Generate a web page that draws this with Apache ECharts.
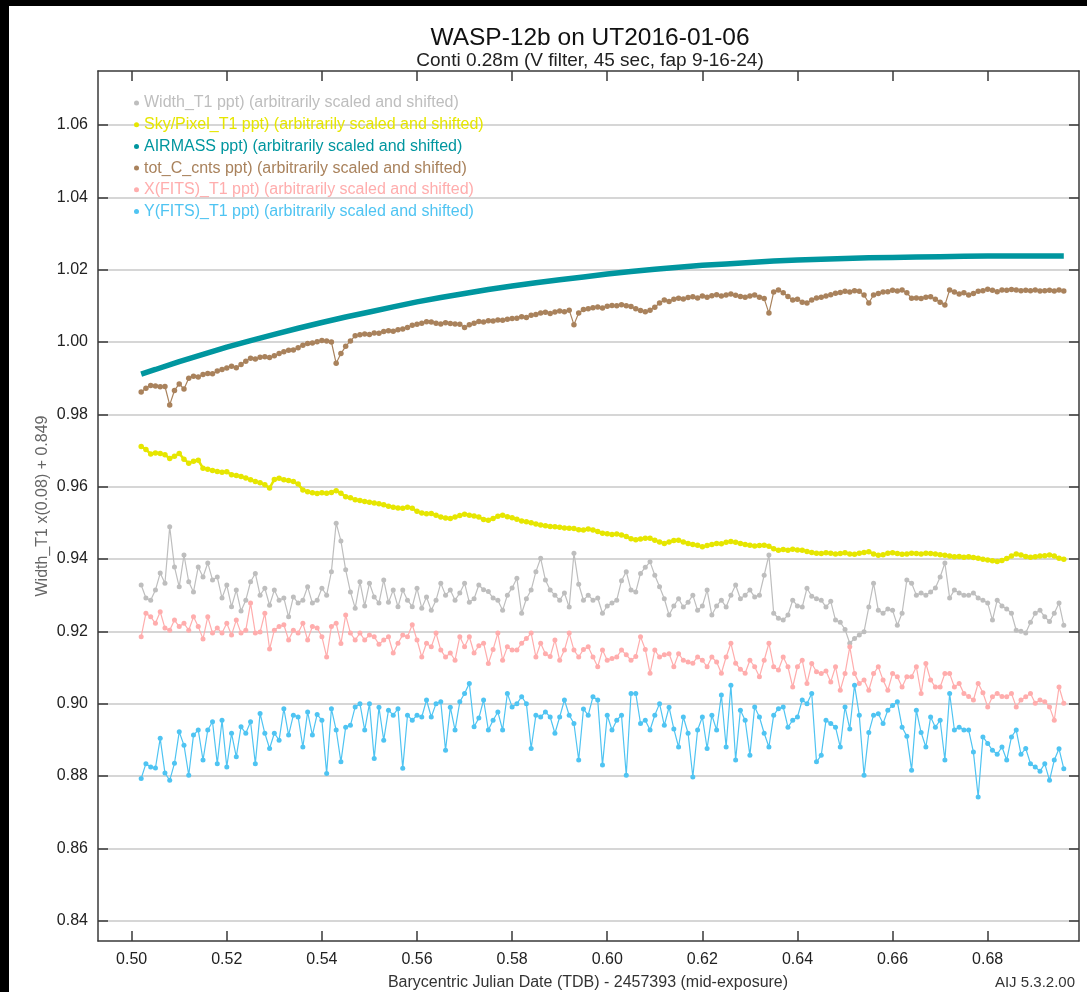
<!DOCTYPE html>
<html><head><meta charset="utf-8">
<script src="https://cdn.jsdelivr.net/npm/echarts@6/dist/echarts.min.js"></script>
<style>html,body{margin:0;padding:0;background:#fff}#c{width:1087px;height:992px}</style>
</head><body><div id="c"></div>
<script>
// ---------------- data ----------------
const bjd = [
0.502,0.503,0.504,0.505,0.506,0.507,0.508,0.509,0.510,0.511,
0.512,0.513,0.514,0.515,0.516,0.517,0.518,0.519,0.520,0.521,
0.522,0.523,0.524,0.525,0.526,0.527,0.528,0.529,0.530,0.531,
0.532,0.533,0.534,0.535,0.536,0.537,0.538,0.539,0.540,0.541,
0.542,0.543,0.544,0.545,0.546,0.547,0.548,0.549,0.550,0.551,
0.552,0.553,0.554,0.555,0.556,0.557,0.558,0.559,0.560,0.561,
0.562,0.563,0.564,0.565,0.566,0.567,0.568,0.569,0.570,0.571,
0.572,0.573,0.574,0.575,0.576,0.577,0.578,0.579,0.580,0.581,
0.582,0.583,0.584,0.585,0.586,0.587,0.588,0.589,0.590,0.591,
0.592,0.593,0.594,0.595,0.596,0.597,0.598,0.599,0.600,0.601,
0.602,0.603,0.604,0.605,0.606,0.607,0.608,0.609,0.610,0.611,
0.612,0.613,0.614,0.615,0.616,0.617,0.618,0.619,0.620,0.621,
0.622,0.623,0.624,0.625,0.626,0.627,0.628,0.629,0.630,0.631,
0.632,0.633,0.634,0.635,0.636,0.637,0.638,0.639,0.640,0.641,
0.642,0.643,0.644,0.645,0.646,0.647,0.648,0.649,0.650,0.651,
0.652,0.653,0.654,0.655,0.656,0.657,0.658,0.659,0.660,0.661,
0.662,0.663,0.664,0.665,0.666,0.667,0.668,0.669,0.670,0.671,
0.672,0.673,0.674,0.675,0.676,0.677,0.678,0.679,0.680,0.681,
0.682,0.683,0.684,0.685,0.686,0.687,0.688,0.689,0.690,0.691,
0.692,0.693,0.694,0.695,0.696];

const widthT1 = [
0.9328,0.9292,0.9286,0.9314,0.9361,0.9333,0.9489,0.9378,0.9323,0.9411,
0.9337,0.9309,0.9378,0.9350,0.9389,0.9342,0.9350,0.9292,0.9328,0.9268,
0.9314,0.9256,0.9286,0.9337,0.9360,0.9300,0.9319,0.9272,0.9314,0.9286,
0.9292,0.9240,0.9295,0.9278,0.9286,0.9323,0.9278,0.9286,0.9319,0.9300,
0.9365,0.9499,0.9450,0.9370,0.9309,0.9264,0.9337,0.9270,0.9333,0.9295,
0.9278,0.9342,0.9280,0.9314,0.9268,0.9314,0.9286,0.9268,0.9319,0.9264,
0.9295,0.9258,0.9286,0.9333,0.9300,0.9314,0.9286,0.9306,0.9333,0.9280,
0.9290,0.9328,0.9315,0.9310,0.9292,0.9286,0.9258,0.9300,0.9320,0.9347,
0.9250,0.9290,0.9314,0.9365,0.9402,0.9342,0.9314,0.9300,0.9286,0.9306,
0.9267,0.9416,0.9330,0.9286,0.9300,0.9286,0.9292,0.9250,0.9270,0.9278,
0.9286,0.9340,0.9365,0.9314,0.9309,0.9360,0.9377,0.9392,0.9355,0.9323,
0.9290,0.9245,0.9270,0.9290,0.9267,0.9280,0.9300,0.9258,0.9270,0.9314,
0.9245,0.9270,0.9286,0.9267,0.9300,0.9328,0.9290,0.9300,0.9314,0.9295,
0.9300,0.9355,0.9411,0.9250,0.9236,0.9231,0.9245,0.9286,0.9270,0.9267,
0.9319,0.9297,0.9290,0.9286,0.9267,0.9283,0.9231,0.9225,0.9205,0.9167,
0.9180,0.9190,0.9199,0.9267,0.9333,0.9258,0.9250,0.9262,0.9258,0.9217,
0.9250,0.9342,0.9333,0.9300,0.9306,0.9300,0.9309,0.9320,0.9350,0.9389,
0.9292,0.9314,0.9306,0.9300,0.9300,0.9306,0.9292,0.9286,0.9278,0.9231,
0.9286,0.9270,0.9262,0.9250,0.9203,0.9200,0.9195,0.9225,0.9250,0.9258,
0.9240,0.9227,0.9250,0.9278,0.9217];

const skyPixel = [
0.9711,0.9703,0.9690,0.9693,0.9692,0.9688,0.9678,0.9684,0.9692,0.9676,
0.9665,0.9670,0.9673,0.9651,0.9648,0.9645,0.9642,0.9640,0.9641,0.9633,
0.9631,0.9628,0.9624,0.9619,0.9614,0.9611,0.9605,0.9596,0.9620,0.9623,
0.9619,0.9617,0.9614,0.9607,0.9591,0.9586,0.9583,0.9581,0.9583,0.9582,
0.9584,0.9589,0.9582,0.9572,0.9569,0.9564,0.9562,0.9559,0.9557,0.9555,
0.9553,0.9550,0.9546,0.9543,0.9541,0.9540,0.9543,0.9540,0.9532,0.9527,
0.9525,0.9526,0.9521,0.9516,0.9513,0.9512,0.9516,0.9520,0.9524,0.9521,
0.9519,0.9516,0.9509,0.9507,0.9512,0.9518,0.9521,0.9517,0.9514,0.9510,
0.9505,0.9503,0.9500,0.9497,0.9494,0.9492,0.9490,0.9489,0.9488,0.9486,
0.9485,0.9484,0.9481,0.9480,0.9483,0.9480,0.9476,0.9471,0.9470,0.9468,
0.9469,0.9466,0.9462,0.9456,0.9453,0.9455,0.9457,0.9457,0.9452,0.9447,
0.9443,0.9447,0.9451,0.9452,0.9447,0.9443,0.9440,0.9438,0.9434,0.9437,
0.9440,0.9443,0.9442,0.9446,0.9448,0.9446,0.9443,0.9440,0.9438,0.9436,
0.9437,0.9438,0.9435,0.9428,0.9424,0.9426,0.9424,0.9427,0.9425,0.9424,
0.9421,0.9418,0.9416,0.9415,0.9417,0.9416,0.9414,0.9415,0.9417,0.9414,
0.9413,0.9416,0.9418,0.9420,0.9414,0.9410,0.9412,0.9416,0.9417,0.9415,
0.9413,0.9414,0.9416,0.9415,0.9414,0.9416,0.9415,0.9414,0.9412,0.9410,
0.9408,0.9406,0.9407,0.9405,0.9406,0.9404,0.9402,0.9399,0.9397,0.9395,
0.9393,0.9396,0.9401,0.9408,0.9414,0.9411,0.9407,0.9405,0.9406,0.9408,
0.9409,0.9411,0.9408,0.9402,0.9399];

const airmassBjd = [0.502,0.505,0.510,0.515,0.520,0.525,0.530,0.535,0.540,0.545,
0.550,0.555,0.560,0.565,0.570,0.575,0.580,0.585,0.590,0.595,
0.600,0.605,0.610,0.615,0.620,0.625,0.630,0.635,0.640,0.645,
0.650,0.655,0.660,0.665,0.670,0.675,0.680,0.685,0.690,0.696];
const airmass = [0.9911,0.9924,0.9946,0.9966,0.9986,1.0004,1.0021,1.0038,1.0054,1.0069,
1.0083,1.0097,1.0111,1.0123,1.0134,1.0145,1.0155,1.0164,1.0172,1.0180,
1.0188,1.0195,1.0201,1.0207,1.0212,1.0216,1.0220,1.0224,1.0227,1.0229,
1.0231,1.0233,1.0234,1.0235,1.0236,1.0237,1.0238,1.0238,1.0238,1.0238];

const totCcnts = [
0.9862,0.9872,0.9880,0.9878,0.9876,0.9877,0.9826,0.9866,0.9884,0.9870,
0.9900,0.9905,0.9903,0.9910,0.9913,0.9912,0.9920,0.9924,0.9928,0.9933,
0.9929,0.9938,0.9947,0.9955,0.9953,0.9958,0.9959,0.9957,0.9962,0.9968,
0.9973,0.9977,0.9978,0.9984,0.9991,0.9996,0.9997,1.0001,1.0004,1.0003,
1.0000,0.9941,0.9968,0.9988,1.0003,1.0017,1.0020,1.0022,1.0021,1.0025,
1.0024,1.0029,1.0031,1.0030,1.0034,1.0036,1.0040,1.0046,1.0049,1.0052,
1.0056,1.0055,1.0052,1.0050,1.0053,1.0051,1.0050,1.0049,1.0040,1.0048,
1.0052,1.0057,1.0055,1.0059,1.0058,1.0061,1.0060,1.0063,1.0065,1.0066,
1.0070,1.0068,1.0074,1.0076,1.0080,1.0082,1.0079,1.0083,1.0086,1.0084,
1.0088,1.0048,1.0080,1.0090,1.0092,1.0095,1.0097,1.0094,1.0099,1.0101,
1.0100,1.0103,1.0100,1.0098,1.0092,1.0087,1.0084,1.0088,1.0096,1.0108,
1.0116,1.0112,1.0118,1.0121,1.0119,1.0123,1.0125,1.0122,1.0127,1.0124,
1.0128,1.0131,1.0127,1.0130,1.0133,1.0129,1.0126,1.0124,1.0127,1.0130,
1.0124,1.0120,1.0080,1.0138,1.0144,1.0136,1.0126,1.0116,1.0118,1.0110,
1.0108,1.0116,1.0122,1.0124,1.0127,1.0131,1.0135,1.0137,1.0140,1.0138,
1.0142,1.0140,1.0130,1.0108,1.0130,1.0134,1.0138,1.0139,1.0143,1.0141,
1.0144,1.0136,1.0121,1.0122,1.0120,1.0124,1.0125,1.0118,1.0110,1.0102,
1.0144,1.0138,1.0133,1.0136,1.0130,1.0134,1.0140,1.0142,1.0146,1.0143,
1.0139,1.0144,1.0143,1.0145,1.0144,1.0142,1.0143,1.0142,1.0144,1.0141,
1.0142,1.0143,1.0141,1.0144,1.0141];

const xFits = [
0.9185,0.9250,0.9240,0.9222,0.9254,0.9209,0.9203,0.9231,0.9213,0.9222,
0.9203,0.9240,0.9213,0.9179,0.9240,0.9195,0.9209,0.9195,0.9222,0.9190,
0.9231,0.9195,0.9203,0.9278,0.9195,0.9198,0.9250,0.9151,0.9203,0.9213,
0.9218,0.9176,0.9203,0.9195,0.9222,0.9176,0.9213,0.9209,0.9185,0.9129,
0.9213,0.9222,0.9166,0.9245,0.9195,0.9176,0.9195,0.9176,0.9190,0.9185,
0.9164,0.9176,0.9185,0.9140,0.9167,0.9190,0.9185,0.9218,0.9176,0.9129,
0.9167,0.9157,0.9195,0.9148,0.9129,0.9140,0.9120,0.9185,0.9157,0.9185,
0.9140,0.9160,0.9167,0.9111,0.9150,0.9195,0.9120,0.9157,0.9148,0.9148,
0.9167,0.9180,0.9195,0.9129,0.9167,0.9138,0.9130,0.9176,0.9120,0.9148,
0.9195,0.9148,0.9129,0.9150,0.9157,0.9129,0.9102,0.9148,0.9120,0.9125,
0.9129,0.9148,0.9135,0.9120,0.9130,0.9185,0.9150,0.9084,0.9148,0.9129,
0.9135,0.9138,0.9102,0.9138,0.9120,0.9115,0.9112,0.9129,0.9120,0.9102,
0.9129,0.9115,0.9084,0.9129,0.9167,0.9112,0.9095,0.9084,0.9120,0.9102,
0.9074,0.9120,0.9167,0.9102,0.9093,0.9129,0.9102,0.9046,0.9102,0.9120,
0.9056,0.9111,0.9088,0.9083,0.9090,0.9060,0.9102,0.9037,0.9083,0.9157,
0.9083,0.9056,0.9065,0.9037,0.9083,0.9102,0.9065,0.9037,0.9083,0.9074,
0.9046,0.9074,0.9074,0.9102,0.9028,0.9111,0.9065,0.9046,0.9046,0.9083,
0.9083,0.9046,0.9056,0.9028,0.9020,0.9010,0.9056,0.9030,0.8991,0.9019,
0.9028,0.9020,0.9019,0.9028,0.8991,0.9010,0.9019,0.9028,0.9001,0.9010,
0.9005,0.8991,0.8954,0.9046,0.9001];

const yFits = [
0.8793,0.8834,0.8825,0.8822,0.8904,0.8808,0.8788,0.8835,0.8922,0.8885,
0.8802,0.8913,0.8927,0.8844,0.8927,0.8950,0.8834,0.8954,0.8825,0.8918,
0.8853,0.8936,0.8918,0.8950,0.8834,0.8973,0.8918,0.8876,0.8918,0.8899,
0.8986,0.8913,0.8968,0.8963,0.8880,0.8977,0.8913,0.8970,0.8954,0.8807,
0.8986,0.8927,0.8839,0.8935,0.8940,0.8991,0.9000,0.8927,0.9000,0.8848,
0.8990,0.8899,0.8982,0.8968,0.8986,0.8821,0.8968,0.8954,0.8968,0.8963,
0.9010,0.8963,0.9000,0.9005,0.8871,0.8990,0.8927,0.9005,0.9028,0.9056,
0.8936,0.8960,0.9010,0.8927,0.8954,0.8977,0.8927,0.9028,0.8991,0.9000,
0.9019,0.9000,0.8876,0.8968,0.8963,0.8977,0.8963,0.8918,0.8963,0.9010,
0.8968,0.8945,0.8844,0.8985,0.8968,0.9019,0.9010,0.8830,0.8968,0.8927,
0.8954,0.8968,0.8802,0.9028,0.9028,0.8945,0.8954,0.8927,0.8968,0.9000,
0.8940,0.8990,0.8930,0.8880,0.8963,0.8918,0.8797,0.8927,0.8963,0.8876,
0.8968,0.8927,0.9024,0.8880,0.9051,0.8844,0.8982,0.8954,0.8857,0.8991,
0.8963,0.8918,0.8880,0.8968,0.8986,0.8991,0.8935,0.8954,0.8963,0.9010,
0.9000,0.9028,0.8839,0.8857,0.8954,0.8945,0.8935,0.8880,0.8991,0.8930,
0.9051,0.8968,0.8802,0.8920,0.8968,0.8972,0.8945,0.8982,0.8995,0.9005,
0.8935,0.8910,0.8816,0.8982,0.8920,0.8880,0.8963,0.8935,0.8954,0.8844,
0.9028,0.8927,0.8935,0.8927,0.8927,0.8866,0.8742,0.8908,0.8890,0.8871,
0.8860,0.8880,0.8844,0.8908,0.8927,0.8860,0.8876,0.8834,0.8825,0.8813,
0.8834,0.8788,0.8844,0.8875,0.8820];

const xTicks = [0.50,0.52,0.54,0.56,0.58,0.60,0.62,0.64,0.66,0.68];
const yTicks = [0.84,0.86,0.88,0.90,0.92,0.94,0.96,0.98,1.00,1.02,1.04,1.06];
const seriesNames = [
  'Width_T1 ppt) (arbitrarily scaled and shifted)',
  'Sky/Pixel_T1 ppt) (arbitrarily scaled and shifted)',
  'AIRMASS ppt) (arbitrarily scaled and shifted)',
  'tot_C_cnts ppt) (arbitrarily scaled and shifted)',
  'X(FITS)_T1 ppt) (arbitrarily scaled and shifted)',
  'Y(FITS)_T1 ppt) (arbitrarily scaled and shifted)'
];
const titleText = 'WASP-12b on UT2016-01-06';
const subtitleText = 'Conti 0.28m (V filter, 45 sec, fap 9-16-24)';
const xTitle = 'Barycentric Julian Date (TDB) - 2457393 (mid-exposure)';
const yTitle = 'Width_T1 x(0.08) + 0.849';
const versionText = 'AIJ 5.3.2.00';

// ---------------- chart ----------------
const FONT = '"Liberation Sans", Arial, sans-serif';
const colors = ['#BEBEBE', '#E6E600', '#00969F', '#A9825C', '#FFADAD', '#4FC4F2'];
const XMIN = 0.49292, XMAX = 0.6992, YMIN = 0.83436, YMAX = 1.07494;
const pairs = (xs, ys) => xs.map((x, i) => [x, ys[i]]);
const seriesData = [
  pairs(bjd, widthT1), pairs(bjd, skyPixel), pairs(airmassBjd, airmass),
  pairs(bjd, totCcnts), pairs(bjd, xFits), pairs(bjd, yFits)
];

const frame = { show: true, onZero: false, lineStyle: { color: '#3a3a3a', width: 1.5 } };
const tickStyle = { color: '#3a3a3a', width: 1.5 };

const series = seriesNames.map((name, i) => {
  const isAir = i === 2;
  return {
    name, type: 'line', data: seriesData[i],
    xAxisIndex: 0, yAxisIndex: 0,
    showSymbol: !isAir, showAllSymbol: true,
    symbol: 'circle',
    symbolSize: (i === 1 || i === 3) ? 5.5 : 5,
    lineStyle: { color: colors[i], width: isAir ? 5.5 : (i === 1 ? 2.5 : 1.2) },
    itemStyle: { color: colors[i] },
    emphasis: { disabled: true },
    animation: false, silent: true, z: 3 + i
  };
});

const chart = echarts.init(document.getElementById('c'), null, { renderer: 'canvas' });
chart.setOption({
  backgroundColor: '#ffffff',
  animation: false,
  grid: { left: 98, right: 8, top: 71, bottom: 51, containLabel: false },
  legend: {
    orient: 'vertical', left: 129, top: 90,
    itemWidth: 5, itemHeight: 5, itemGap: 5.7, icon: 'circle',
    selectedMode: false,
    textStyle: { fontFamily: FONT, fontSize: 16, lineHeight: 16 },
    data: seriesNames.map((n, i) => ({ name: n, textStyle: { color: colors[i] } }))
  },
  xAxis: [
    { type: 'value', position: 'bottom', min: XMIN, max: XMAX,
      axisLine: frame,
      axisTick: { show: true, inside: true, length: 10, lineStyle: tickStyle, customValues: xTicks },
      axisLabel: { show: true, customValues: xTicks, margin: 11, color: '#222', fontFamily: FONT, fontSize: 16,
        formatter: v => v.toFixed(2) },
      splitLine: { show: false } },
    { type: 'value', position: 'top', min: XMIN, max: XMAX,
      axisLine: frame,
      axisTick: { show: true, inside: true, length: 10, lineStyle: tickStyle, customValues: xTicks },
      axisLabel: { show: false }, splitLine: { show: false } }
  ],
  yAxis: [
    { type: 'value', position: 'left', min: YMIN, max: YMAX,
      axisLine: frame,
      axisTick: { show: true, inside: true, length: 10, lineStyle: tickStyle, customValues: yTicks },
      axisLabel: { show: true, customValues: yTicks, margin: 10, color: '#222', fontFamily: FONT, fontSize: 16,
        formatter: v => v.toFixed(2) },
      splitLine: { show: true, lineStyle: { color: '#c8c8c8', width: 1.5 } } },
    { type: 'value', position: 'right', min: YMIN, max: YMAX,
      axisLine: frame,
      axisTick: { show: true, inside: true, length: 10, lineStyle: tickStyle, customValues: yTicks },
      axisLabel: { show: false }, splitLine: { show: false } }
  ],
  graphic: [
    { type: 'rect', left: 0, top: 0, shape: { width: 1087, height: 6 }, style: { fill: '#000' }, silent: true },
    { type: 'rect', left: 0, top: 0, shape: { width: 9, height: 992 }, style: { fill: '#000' }, silent: true },
    { type: 'text', x: 590, y: 38, silent: true,
      style: { text: titleText, font: '24.5px ' + FONT, fill: '#111', textAlign: 'center', textVerticalAlign: 'middle' } },
    { type: 'text', x: 590, y: 61, silent: true,
      style: { text: subtitleText, font: '19px ' + FONT, fill: '#222', textAlign: 'center', textVerticalAlign: 'middle' } },
    { type: 'text', x: 588, y: 983, silent: true,
      style: { text: xTitle, font: '16px ' + FONT, fill: '#333', textAlign: 'center', textVerticalAlign: 'middle' } },
    { type: 'text', x: 43, y: 506, rotation: Math.PI / 2, silent: true,
      style: { text: yTitle, font: '16px ' + FONT, fill: '#666', textAlign: 'center', textVerticalAlign: 'middle' } },
    { type: 'text', x: 1075, y: 983, silent: true,
      style: { text: versionText, font: '15px ' + FONT, fill: '#333', textAlign: 'right', textVerticalAlign: 'middle' } }
  ],
  series
});
</script>
</body></html>
